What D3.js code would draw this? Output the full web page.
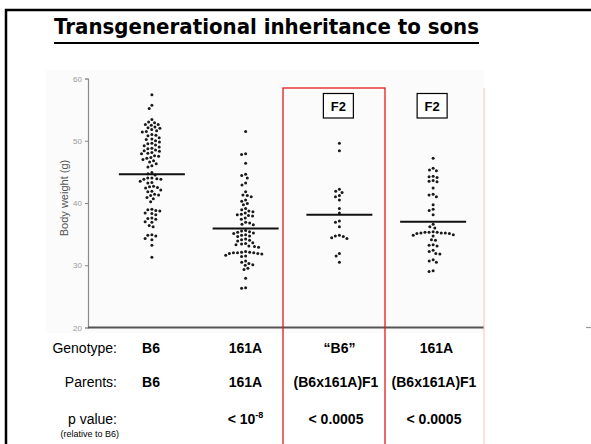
<!DOCTYPE html>
<html>
<head>
<meta charset="utf-8">
<script src="https://cdn.jsdelivr.net/npm/d3@7"></script>
<style>
  html, body { margin: 0; padding: 0; background: #fff; }
  svg { display: block; }
</style>
</head>
<body>
<svg id="chart" width="591" height="444"></svg>
<script>
// ---- Data ----------------------------------------------------------------
const groups = ["B6", "161A", "F2_B6", "F2_161A"];

// Individual body weights (g) of sons in each group
const weightsB6 = [
  57.4, 55.7, 55.2,
  53.4, 53.0, 52.9, 52.6, 52.6, 52.5, 52.2, 52.1, 52.0, 51.8, 51.6, 51.5, 51.4,
  51.0, 50.9, 50.8, 50.5, 50.3, 50.2, 50.0, 49.8, 49.6, 49.5, 49.3, 49.2, 49.0,
  48.8, 48.7, 48.5, 48.4, 48.3, 48.1, 48.0, 47.9, 47.6, 47.5, 47.3, 47.2, 47.0,
  46.8, 46.6, 46.3, 46.0, 45.8,
  44.9, 44.7, 44.5,
  44.0, 44.0, 43.9, 43.8, 43.8, 43.5, 43.3, 43.2, 42.7, 42.6, 42.5, 42.4, 42.1,
  41.9, 41.8, 41.4, 41.3, 41.2, 40.9, 40.7, 40.2, 39.0, 38.9, 38.8, 38.7, 38.4,
  38.3, 38.1, 37.6, 37.5, 37.4, 37.0, 36.9, 36.4, 36.2, 34.9, 34.8, 34.7, 34.3,
  34.1, 33.2, 31.3
];
const weights161A = [
  51.5, 47.9, 47.8, 46.4, 44.6, 44.4, 44.0, 43.2, 42.9, 41.8, 41.3, 41.2, 41.0,
  40.5, 40.3, 39.9, 39.7, 39.1, 38.9, 38.7, 38.6, 38.4, 38.2, 38.1, 38.0, 37.9,
  37.6, 37.4, 36.9, 36.8, 36.6, 36.5, 35.6, 35.5, 35.4, 35.3, 35.2, 35.1, 34.9,
  34.8, 34.7, 34.6, 34.2, 34.1, 34.0, 33.9, 33.6, 33.5, 33.4, 33.3, 33.1, 33.0,
  32.9, 32.2, 32.1, 32.1, 32.0, 32.0, 32.0, 31.9, 31.9, 31.8, 31.6, 31.5, 31.4,
  30.7, 30.5, 30.3, 30.1, 30.0, 29.5, 29.3, 27.9, 26.4, 26.3
];
const weightsF2B6 = [
  49.6, 48.4, 42.2, 41.9, 41.7, 41.2, 41.0, 40.5, 39.1, 38.4, 37.1, 36.9, 36.2,
  34.8, 34.7, 34.6, 34.4, 34.3, 31.9, 31.5, 30.5
];
const weightsF2161A = [
  47.2, 45.6, 45.3, 45.2, 44.3, 44.2, 44.1, 43.6, 43.5, 43.4, 42.4, 41.4, 41.3,
  41.0, 39.7, 39.0, 38.8, 38.1, 36.6, 36.2, 36.0, 35.4, 35.3, 35.3, 35.3, 35.2,
  35.2, 35.2, 35.1, 35.1, 34.9, 34.8, 34.7, 34.1, 34.0, 33.3, 33.2, 33.1, 32.4,
  32.2, 31.9, 31.8, 30.9, 30.7, 30.5, 29.1, 29.0
];
const groupWeights = [weightsB6, weights161A, weightsF2B6, weightsF2161A];

// Group means (horizontal bars)
const means = [44.6, 35.9, 38.1, 37.0];

// Axis ticks
const yTicks = [20, 30, 40, 50, 60];

// Table rows under the plot
const genotypeLabels = ["B6", "161A", "\u201CB6\u201D", "161A"];
const parentLabels = ["B6", "161A", "(B6x161A)F1", "(B6x161A)F1"];
const pValueText = ["", "< 10", "< 0.0005", "< 0.0005"];
const pValueExponent = ["", "-8", "", ""];
const f2Tags = ["", "", "F2", "F2"];

// ---- Layout --------------------------------------------------------------
const svg = d3.select("#chart");
const axisX = 88;
const plotRight = 484;
const y = d3.scaleLinear().domain([20, 60]).range([327.5, 78.5]);
const x = d3.scaleBand().domain(groups).range([105, 480]).padding(0);
const cx = g => x(g) + x.bandwidth() / 2;

// Outer slide frame
svg.append("rect")
  .attr("x", 6).attr("y", 10).attr("width", 620).attr("height", 460)
  .attr("fill", "none").attr("stroke", "#000").attr("stroke-width", 2.5);

// Title
svg.append("text")
  .attr("x", 266.5).attr("y", 34)
  .attr("text-anchor", "middle")
  .attr("textLength", 425).attr("lengthAdjust", "spacingAndGlyphs")
  .style("font-family", "'DejaVu Sans', sans-serif")
  .style("font-weight", "bold").style("font-size", "21px")
  .text("Transgenerational inheritance to sons");
svg.append("line")
  .attr("x1", 54).attr("x2", 479).attr("y1", 43).attr("y2", 43)
  .attr("stroke", "#000").attr("stroke-width", 2.2);

// Light panel behind the scatter
svg.append("rect")
  .attr("x", 46).attr("y", 70).attr("width", plotRight - 46).attr("height", 263)
  .attr("fill", "#fbfbfb");

// Y axis
const yAxis = svg.append("g")
  .attr("transform", `translate(${axisX},0)`)
  .call(d3.axisLeft(y).tickValues(yTicks).tickSize(3).tickPadding(3));
yAxis.select(".domain").attr("stroke", "#8a8a8a").attr("stroke-width", 1.2);
yAxis.selectAll(".tick line").attr("stroke", "#8a8a8a");
yAxis.selectAll(".tick text")
  .attr("fill", "#9a9a9a")
  .style("font-family", "'Liberation Sans', Arial, sans-serif")
  .style("font-size", "8px");

svg.append("text")
  .attr("transform", `translate(68,198) rotate(-90)`)
  .attr("text-anchor", "middle")
  .attr("fill", "#555")
  .style("font-family", "'Liberation Sans', Arial, sans-serif")
  .style("font-size", "11px")
  .text("Body weight (g)");

// Baseline
svg.append("line")
  .attr("x1", axisX).attr("x2", plotRight)
  .attr("y1", y(20)).attr("y2", y(20))
  .attr("stroke", "#555").attr("stroke-width", 2);
svg.append("line")
  .attr("x1", 586).attr("x2", 591)
  .attr("y1", y(20)).attr("y2", y(20))
  .attr("stroke", "#999").attr("stroke-width", 1.2);

// Frames around the F2 groups
svg.append("rect")
  .attr("x", x("F2_B6") - 9.5).attr("y", 88)
  .attr("width", 102).attr("height", 400)
  .attr("fill", "none").attr("stroke", "#e41a1c").attr("stroke-width", 1.3);
svg.append("line")
  .attr("x1", plotRight).attr("x2", plotRight).attr("y1", 88).attr("y2", 444)
  .attr("stroke", "#f3c4c4").attr("stroke-width", 1);

// Beeswarm placement so that equal weights spread sideways
const D = 4.1;
function swarm(values) {
  const placed = [];
  const pts = values.map(v => ({ v, py: y(v) })).sort((a, b) => a.py - b.py);
  for (const d of pts) {
    const near = placed.filter(p => Math.abs(p.py - d.py) < D);
    const cands = [0];
    for (const p of near) {
      const dx = Math.sqrt(D * D - (p.py - d.py) ** 2);
      cands.push(p.dx - dx, p.dx + dx);
    }
    cands.sort((a, b) => Math.abs(a) - Math.abs(b));
    d.dx = 0;
    for (const c of cands) {
      if (near.every(p => (p.dx - c) ** 2 + (p.py - d.py) ** 2 >= D * D - 1e-6)) { d.dx = c; break; }
    }
    placed.push(d);
  }
  return placed;
}

groups.forEach((g, i) => {
  const pts = swarm(groupWeights[i]);
  svg.append("g").selectAll("circle")
    .data(pts).join("circle")
    .attr("cx", d => cx(g) + d.dx)
    .attr("cy", d => y(d.v))
    .attr("r", 1.5)
    .attr("fill", "#1a1a1a");

  svg.append("line")
    .attr("x1", cx(g) - 33).attr("x2", cx(g) + 33)
    .attr("y1", y(means[i])).attr("y2", y(means[i]))
    .attr("stroke", "#111").attr("stroke-width", 2);
});

// F2 tags
groups.forEach((g, i) => {
  if (!f2Tags[i]) return;
  const tx = cx(g) - 1;
  svg.append("rect")
    .attr("x", tx - 15).attr("y", 93.5).attr("width", 30).attr("height", 24.5)
    .attr("fill", "#fff").attr("stroke", "#000").attr("stroke-width", 1.2);
  svg.append("text")
    .attr("x", tx).attr("y", 110.5)
    .attr("text-anchor", "middle")
    .style("font-family", "'Liberation Sans', Arial, sans-serif")
    .style("font-weight", "bold").style("font-size", "13px")
    .text(f2Tags[i]);
});

// Table under the plot
const font = "'Liberation Sans', Arial, sans-serif";
const rowY = [352.5, 387, 424];
const rowTitles = ["Genotype:", "Parents:", "p value:"];
rowTitles.forEach((t, r) => {
  svg.append("text")
    .attr("x", 117).attr("y", rowY[r])
    .attr("text-anchor", "end")
    .style("font-family", font).style("font-size", "14px")
    .text(t);
});
svg.append("text")
  .attr("x", 119).attr("y", 437)
  .attr("text-anchor", "end")
  .style("font-family", font).style("font-size", "9px")
  .text("(relative to B6)");

const labelX = [151, 245.5, 336, 434];
groups.forEach((g, i) => {
  svg.append("text")
    .attr("x", labelX[i] + (i === 2 ? 3.5 : 2.5 * (i === 3))).attr("y", rowY[0])
    .attr("text-anchor", "middle")
    .style("font-family", font).style("font-weight", "bold").style("font-size", "14px")
    .text(genotypeLabels[i]);
  svg.append("text")
    .attr("x", labelX[i]).attr("y", rowY[1])
    .attr("text-anchor", "middle")
    .style("font-family", font).style("font-weight", "bold").style("font-size", "14px")
    .text(parentLabels[i]);
  if (pValueText[i]) {
    const t = svg.append("text")
      .attr("x", labelX[i]).attr("y", rowY[2])
      .attr("text-anchor", "middle")
      .style("font-family", font).style("font-weight", "bold").style("font-size", "14px");
    t.append("tspan").text(pValueText[i]);
    if (pValueExponent[i]) {
      t.append("tspan").attr("dy", -6).style("font-size", "9px").text(pValueExponent[i]);
    }
  }
});
</script>
</body>
</html>
